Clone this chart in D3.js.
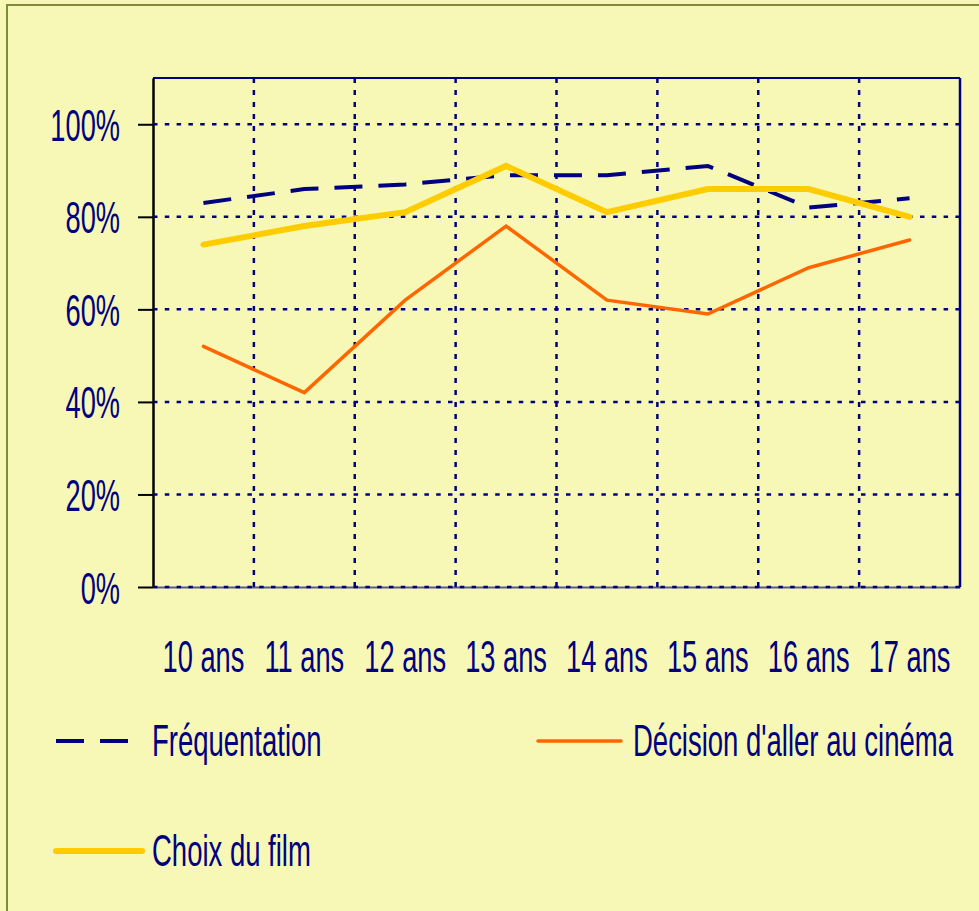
<!DOCTYPE html>
<html>
<head>
<meta charset="utf-8">
<script src="https://cdn.jsdelivr.net/npm/d3@7"></script>
<style>
body { margin: 0; background: #f7f8b5; }
svg { display: block; }
</style>
</head>
<body>
<div id="chart"></div>
<script>
const categories = ["10 ans", "11 ans", "12 ans", "13 ans", "14 ans", "15 ans", "16 ans", "17 ans"];
const frequentation = [83, 86, 87, 89, 89, 91, 82, 84];
const decision = [52, 42, 62, 78, 62, 59, 69, 75];
const choix = [74, 78, 81, 91, 81, 86, 86, 80];
const yTicks = [0, 20, 40, 60, 80, 100];
const seriesNames = ["Fréquentation", "Décision d'aller au cinéma", "Choix du film"];

const W = 979, H = 911;
const margin = {top: 78, right: 19, bottom: 324, left: 153};
const navy = "#000080";
const squeeze = 0.605;   // the original font is very condensed
const legendSqueeze = 0.625;

var svg = d3.select("#chart").append("svg")
    .attr("width", W)
    .attr("height", H)
    .style("font-family", "'Liberation Sans', Arial, sans-serif");

// outer frame
svg.append("rect")
    .attr("x", 7).attr("y", 5)
    .attr("width", 1000).attr("height", 1000)
    .attr("fill", "#f7f8b5")
    .attr("stroke", "#7f8a3c")
    .attr("stroke-width", 2);

var x = d3.scaleBand()
    .domain(categories)
    .range([margin.left, W - margin.right]);

var y = d3.scaleLinear()
    .domain([0, 110])
    .range([H - margin.bottom, margin.top]);

var g = svg.append("g");

// bottom axis (labels only + base line)
var xAxis = g.append("g")
    .attr("transform", "translate(0," + y(0) + ")")
    .call(d3.axisBottom(x).tickSize(0).tickSizeOuter(0));
xAxis.select(".domain").attr("stroke", "#5a5a8c").attr("stroke-width", 2);
xAxis.selectAll("text")
    .attr("fill", navy)
    .attr("font-size", 45)
    .attr("dy", 0)
    .attr("y", 85)
    .attr("transform", "scale(" + squeeze + ",1)");

// left axis
var yAxis = g.append("g")
    .attr("transform", "translate(" + margin.left + ",0)")
    .call(d3.axisLeft(y).tickValues(yTicks).tickSize(15).tickSizeOuter(0)
        .tickFormat(function(d) { return d + "%"; }));
yAxis.select(".domain").attr("stroke", "#000").attr("stroke-width", 2.5);
yAxis.selectAll(".tick line").attr("stroke", "#000").attr("stroke-width", 2);
yAxis.selectAll("text")
    .attr("fill", navy)
    .attr("font-size", 45)
    .attr("dy", 0)
    .attr("y", 16)
    .attr("x", -33 / squeeze)
    .attr("transform", "scale(" + squeeze + ",1)");
g.selectAll(".tick text").attr("font-family", "'Liberation Sans', Arial, sans-serif");

// dotted grid
g.append("g").selectAll("line")
    .data(yTicks)
    .join("line")
    .attr("x1", margin.left)
    .attr("x2", W - margin.right)
    .attr("y1", function(d) { return y(d); })
    .attr("y2", function(d) { return y(d); })
    .attr("stroke", navy)
    .attr("stroke-width", 2.5)
    .attr("stroke-dasharray", "4.5,7.3");

g.append("g").selectAll("line")
    .data(categories.slice(1))
    .join("line")
    .attr("x1", function(d) { return x(d); })
    .attr("x2", function(d) { return x(d); })
    .attr("y1", margin.top)
    .attr("y2", y(0))
    .attr("stroke", navy)
    .attr("stroke-width", 2.5)
    .attr("stroke-dasharray", "5,7");

// top and right border of the plot
g.append("line")
    .attr("x1", margin.left).attr("x2", W - margin.right)
    .attr("y1", margin.top).attr("y2", margin.top)
    .attr("stroke", navy).attr("stroke-width", 2);
g.append("line")
    .attr("x1", W - margin.right).attr("x2", W - margin.right)
    .attr("y1", margin.top).attr("y2", y(0))
    .attr("stroke", navy).attr("stroke-width", 2.5);

var line = d3.line()
    .x(function(d, i) { return x(categories[i]) + x.bandwidth() / 2; })
    .y(function(d) { return y(d); });

var series = [
    {name: seriesNames[0], values: frequentation, color: navy, width: 4, dash: "28,16", cap: "butt"},
    {name: seriesNames[1], values: decision, color: "#ff6600", width: 3.5, dash: null, cap: "round"},
    {name: seriesNames[2], values: choix, color: "#ffcc00", width: 6, dash: null, cap: "round"}
];

g.append("g").selectAll("path")
    .data(series)
    .join("path")
    .attr("d", function(d) { return line(d.values); })
    .attr("fill", "none")
    .attr("stroke", function(d) { return d.color; })
    .attr("stroke-width", function(d) { return d.width; })
    .attr("stroke-dasharray", function(d) { return d.dash; })
    .attr("stroke-linecap", function(d) { return d.cap; })
    .attr("stroke-linejoin", "miter");

// legend
var legendPos = [
    {x1: 56, x2: 130, lx: 152, ly: 741},
    {x1: 538, x2: 621, lx: 633, ly: 741},
    {x1: 56, x2: 142, lx: 152, ly: 851}
];

var legend = svg.append("g").selectAll("g")
    .data(series)
    .join("g")
    .attr("transform", function(d, i) { return "translate(0," + legendPos[i].ly + ")"; });

legend.append("line")
    .attr("x1", function(d, i) { return legendPos[i].x1; })
    .attr("x2", function(d, i) { return legendPos[i].x2; })
    .attr("stroke", function(d) { return d.color; })
    .attr("stroke-width", function(d) { return d.width; })
    .attr("stroke-dasharray", function(d) { return d.dash; })
    .attr("stroke-linecap", function(d) { return d.cap; });

legend.append("text")
    .attr("x", function(d, i) { return legendPos[i].lx / legendSqueeze; })
    .attr("y", 15)
    .attr("transform", "scale(" + legendSqueeze + ",1)")
    .attr("fill", navy)
    .attr("font-size", 44)
    .text(function(d) { return d.name; });
</script>
</body>
</html>
